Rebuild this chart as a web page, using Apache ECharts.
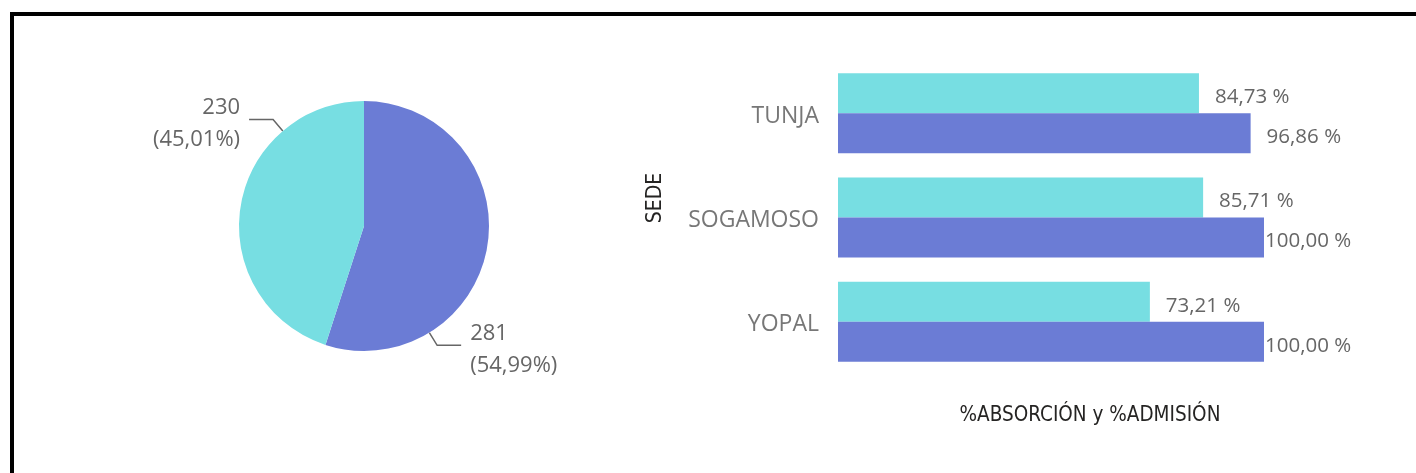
<!DOCTYPE html>
<html>
<head>
<meta charset="utf-8">
<script src="https://cdn.jsdelivr.net/npm/echarts@6/dist/echarts.min.js"></script>
<style>
  html, body { margin: 0; padding: 0; background: #fff; overflow: hidden; }
  .frame {
    position: absolute; left: 10px; top: 12px;
    width: 1500px; height: 600px;
    border: 4px solid #000;
  }
  #chart { position: absolute; left: 0; top: 0; width: 1416px; height: 473px; }
</style>
</head>
<body>
<div class="frame"></div>
<div id="chart"></div>
<script>
// datos
const sedes = ["TUNJA", "SOGAMOSO", "YOPAL"];
const absorcion = [84.73, 85.71, 73.21];
const admision = [96.86, 100.0, 100.0];
const pieNames = ["Grupo 1", "Grupo 2"];
const pieValues = [281, 230];

const CYAN = "#77dee2";
const BLUE = "#6b7cd5";
const PIE_C = [364, 226];
const PIE_R = 125;
// angulo donde arranca la linea guia de cada porcion (como lo pinta Power BI)
const leaderAngles = [-58.5, 130.5];
const TITLE_FONT = "'DejaVu Sans Condensed', sans-serif";

function pct(v) {
  return v.toFixed(2).replace(".", ",") + " %";
}

var myChart = echarts.init(document.getElementById("chart"));
var option = {
  animation: false,
  textStyle: { fontFamily: "Open Sans" },
  grid: { left: 838, top: 61, width: 426, height: 313 },
  xAxis: {
    type: "value",
    min: 0,
    max: 100,
    axisLine: { show: false },
    axisTick: { show: false },
    axisLabel: { show: false },
    splitLine: { show: false },
    name: "%ABSORCIÓN y %ADMISIÓN",
    nameLocation: "middle",
    nameGap: 31,
    nameTextStyle: {
      fontFamily: TITLE_FONT,
      fontSize: 20.5,
      color: "#252423",
      padding: [0, 0, 0, 78]
    }
  },
  yAxis: {
    type: "category",
    data: sedes,
    inverse: true,
    axisLine: { show: false },
    axisTick: { show: false },
    axisLabel: {
      margin: 19,
      formatter: function (v) { return "{s|" + v + "}"; },
      rich: {
        s: { fontSize: 23, color: "#777777", padding: [6, 0, 0, 0] }
      }
    },
    name: "SEDE",
    nameLocation: "middle",
    nameRotate: 90,
    nameGap: 172,
    nameTextStyle: {
      fontFamily: TITLE_FONT,
      fontSize: 21,
      color: "#252423",
      padding: [0, 0, 0, 39]
    }
  },
  series: [
    {
      name: "%ABSORCION",
      type: "bar",
      data: absorcion.map(function (v) {
        return { value: v, label: { distance: v >= 100 ? 1 : 16 } };
      }),
      barGap: 0,
      barCategoryGap: "23.4%",
      itemStyle: { color: CYAN },
      label: {
        show: true,
        position: "right",
        offset: [0, 4],
        fontSize: 20.5,
        color: "#666666",
        formatter: function (p) { return pct(p.value); }
      }
    },
    {
      name: "%ADMISION",
      type: "bar",
      data: admision.map(function (v) {
        return { value: v, label: { distance: v >= 100 ? 1 : 16 } };
      }),
      barGap: 0,
      barCategoryGap: "23.4%",
      itemStyle: { color: BLUE },
      label: {
        show: true,
        position: "right",
        offset: [0, 4],
        fontSize: 20.5,
        color: "#666666",
        formatter: function (p) { return pct(p.value); }
      }
    },
    {
      type: "pie",
      center: PIE_C,
      radius: PIE_R,
      startAngle: 90,
      clockwise: true,
      avoidLabelOverlap: false,
      data: pieValues.map(function (v, i) {
        return { name: pieNames[i], value: v, itemStyle: { color: i === 0 ? BLUE : CYAN } };
      }),
      itemStyle: { borderWidth: 0 },
      label: {
        show: true,
        position: "outside",
        fontSize: 22,
        lineHeight: 32,
        color: "#666666",
        formatter: function (p) {
          return p.value + "\n(" + p.percent.toFixed(2).replace(".", ",") + "%)";
        }
      },
      labelLine: { show: true, lineStyle: { color: "#666666", width: 1.5 } },
      labelLayout: function (p) {
        const a = leaderAngles[p.dataIndex] * Math.PI / 180;
        const dx = Math.cos(a), dy = -Math.sin(a);
        const p0 = [PIE_C[0] + PIE_R * dx, PIE_C[1] + PIE_R * dy];
        const p1 = [PIE_C[0] + (PIE_R + 15) * dx, PIE_C[1] + (PIE_R + 15) * dy];
        const side = dx < 0 ? -1 : 1;
        const p2 = [p1[0] + side * 24, p1[1]];
        return {
          x: p2[0] + side * 9,
          y: p2[1] + 4,
          align: side < 0 ? "right" : "left",
          verticalAlign: "middle",
          labelLinePoints: [p0, p1, p2]
        };
      }
    }
  ]
};
myChart.setOption(option);
</script>
</body>
</html>
